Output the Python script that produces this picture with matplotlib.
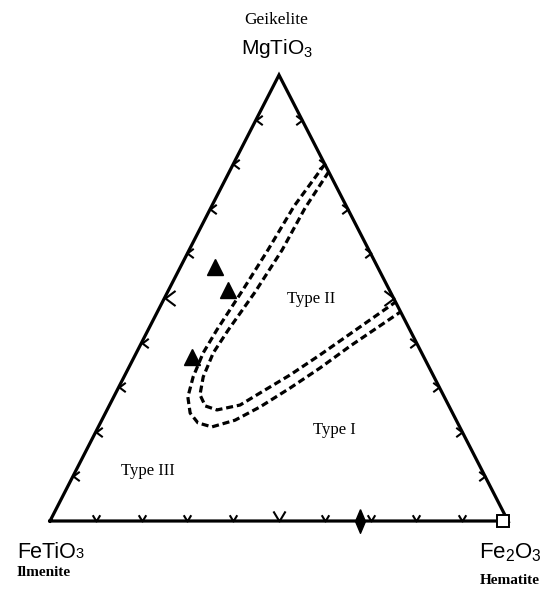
import matplotlib
matplotlib.use("Agg")
import matplotlib.pyplot as plt
from matplotlib.path import Path
import numpy as np

# ternary compositions in mol % (MgTiO3, Fe2O3); FeTiO3 = 100 - both
# outer dashed boundary (from upper junction on MgTiO3-Fe2O3 side round the bend)
outer_mg = [80.0, 70.6, 60.8, 51.8, 42.8, 37.7, 32.3, 27.8, 24.2, 22.0, 21.1,
            22.6, 25.6, 29.8, 34.3, 39.2, 46.9]
outer_hem = [20.0, 18.0, 17.2, 16.2, 15.0, 14.6, 15.1, 16.2, 18.5, 21.3, 24.8,
             29.1, 33.1, 37.5, 41.8, 45.9, 53.1]
# inner dashed boundary
inner_mg = [78.3, 70.2, 60.8, 51.3, 42.8, 37.7, 32.3, 28.3, 25.8, 24.9, 26.0,
            28.7, 32.7, 37.2, 41.9, 49.1]
inner_hem = [21.7, 20.6, 20.3, 19.1, 17.5, 16.8, 17.3, 18.6, 21.0, 24.0, 28.5,
             31.5, 36.0, 40.3, 44.5, 50.9]

# samples (triangles)
samp_mg = [56.9, 51.8, 36.8]
samp_hem = [7.6, 13.0, 12.6]
# diamond on the FeTiO3-Fe2O3 join, square at hematite corner
diam_mg = [0.0]
diam_hem = [67.7]
sq_mg = [0.0]
sq_hem = [98.8]

corner_mg = [0, 0, 100, 0]
corner_hem = [0, 100, 0, 0]
tick_vals = [10, 20, 30, 40, 50, 60, 70, 80, 90]


def tern(mg, hem):
    a = np.asarray(mg, dtype=float) / 100.0
    b = np.asarray(hem, dtype=float) / 100.0
    return b + a / 2.0, a


W, H = 552, 590
fig = plt.figure(figsize=(W / 100, H / 100), dpi=100)
fig.patch.set_facecolor("white")
ax = fig.add_axes([50 / W, 69 / H, 458 / W, 446 / H])
ax.set_xlim(0, 1)
ax.set_ylim(0, 1)
ax.axis("off")

# outline
x, y = tern(corner_mg, corner_hem)
ax.plot(x, y, color="black", lw=2.3, solid_joinstyle="miter", clip_on=False, zorder=3)

# chevron ticks opening toward the inside (vertex sits on the edge)
chev_bottom = Path([(-0.6, 1.0), (0, 0), (0.6, 1.0)], [Path.MOVETO, Path.LINETO, Path.LINETO])
chev_left = Path([(1.0, 0.75), (0, 0), (1.0, -0.75)], [Path.MOVETO, Path.LINETO, Path.LINETO])
chev_right = Path([(-1.0, 0.75), (0, 0), (-1.0, -0.75)], [Path.MOVETO, Path.LINETO, Path.LINETO])

t = np.array(tick_vals)
edges = [
    (np.zeros_like(t), t, chev_bottom),        # FeTiO3 - Fe2O3
    (t, np.zeros_like(t), chev_left),          # FeTiO3 - MgTiO3
    (t, 100 - t, chev_right),                  # MgTiO3 - Fe2O3
]
for mg, hem, mk in edges:
    for m, h, v in zip(mg, hem, t):
        px, py = tern([m], [h])
        ms = 14.5 if v == 50 else 9
        ax.plot(px, py, marker=mk, ms=ms, mfc="none", mec="black", mew=1.5,
                ls="none", clip_on=False, zorder=4)

# dashed field boundaries
x, y = tern(outer_mg, outer_hem)
ax.plot(x, y, color="black", lw=2.3, dashes=(2.2, 1.2), zorder=2)
x, y = tern(inner_mg, inner_hem)
ax.plot(x, y, color="black", lw=2.3, dashes=(2.2, 1.2), zorder=2)

# samples
x, y = tern(samp_mg, samp_hem)
ax.plot(x, y, ls="none", marker="^", ms=11, color="black", zorder=5)
diamond = Path([(0, 1), (0.42, 0), (0, -1), (-0.42, 0), (0, 1)])
x, y = tern(diam_mg, diam_hem)
ax.plot(x, y, ls="none", marker=diamond, ms=17, color="black", clip_on=False, zorder=5)
x, y = tern(sq_mg, sq_hem)
ax.plot(x, y, ls="none", marker="s", ms=8, mfc="white", mec="black", mew=1.4,
        clip_on=False, zorder=5)

serif = "Liberation Serif"
sans = "Liberation Sans"


def fx(px):
    return px / W


def fy(py):
    return 1 - py / H


fig.text(fx(276), fy(20), "Geikelite", family=serif, fontsize=12.5, ha="center", va="center")
fig.text(fx(277), fy(49), r"$\mathregular{MgTiO_3}$", family=sans, fontsize=15,
         ha="center", va="center")
fig.text(fx(17), fy(558), "FeTiO", family=sans, fontsize=15.5, ha="left", va="baseline")
fig.text(fx(75), fy(558), "3", family=sans, fontsize=10.5, ha="left", va="baseline")
fig.text(fx(17), fy(573), "Ilmenite", family=serif, fontsize=11, weight="bold",
         ha="left", va="center")
fig.text(fx(510), fy(553), r"$\mathregular{Fe_2O_3}$", family=sans, fontsize=16,
         ha="center", va="center")
fig.text(fx(510), fy(580), "Hematite", family=serif, fontsize=11, weight="bold",
         ha="center", va="center")

fig.text(fx(311), fy(299), "Type II", family=serif, fontsize=12, ha="center", va="center")
fig.text(fx(334), fy(430), "Type I", family=serif, fontsize=12, ha="center", va="center")
fig.text(fx(148), fy(471), "Type III", family=serif, fontsize=12, ha="center", va="center")

fig.savefig("out.png", dpi=100, facecolor="white")
